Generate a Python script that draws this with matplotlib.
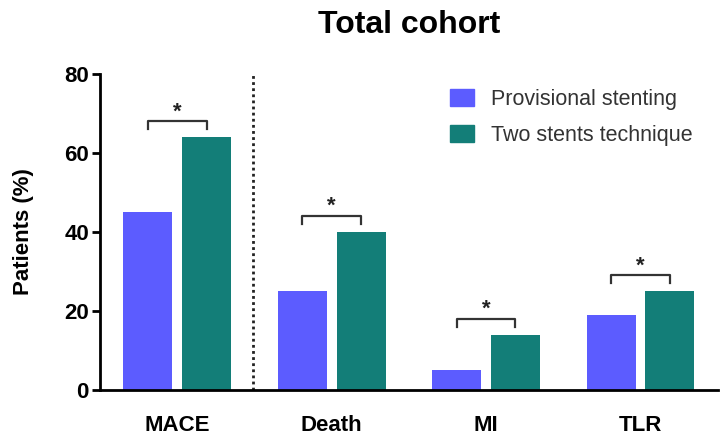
import numpy as np
import matplotlib.pyplot as plt
from matplotlib.patches import Patch

plt.rcParams["font.family"] = ["Liberation Sans", "DejaVu Sans"]

categories = ["MACE", "Death", "MI", "TLR"]
provisional = [45, 25, 5, 19]
two_stents = [64, 40, 14, 25]
yticks = [0, 20, 40, 60, 80]

c_prov = "#5c5cff"
c_two = "#137e78"

fig = plt.figure(figsize=(7.25, 4.48), dpi=100)
ax = fig.add_axes([0.138, 0.1295, 0.852, 0.7055])

x = np.arange(len(categories))
w = 0.317
off = 0.19
ax.bar(x - off, provisional, w, color=c_prov)
ax.bar(x + off, two_stents, w, color=c_two)

# significance brackets
for xi, top in zip(x, two_stents):
    y0 = top + 4
    ax.plot([xi - off, xi - off, xi + off, xi + off],
            [y0 - 2, y0, y0, y0 - 2], color="#333333", lw=1.6)
    ax.text(xi, y0 + 2.4, "*", ha="center", va="center",
            fontsize=16, fontweight="bold", color="#222222")

# dotted divider between MACE and the components
ax.axvline(0.49, color="#222222", lw=2, ls=(0, (1, 1.2)))

ax.set_xlim(-0.5, 3.5)
ax.set_ylim(0, 80)
ax.set_yticks(yticks)
ax.set_yticklabels([str(t) for t in yticks], fontsize=16, fontweight="bold")
ax.set_xticks(x)
ax.set_xticklabels(categories, fontsize=16, fontweight="bold")
ax.tick_params(axis="x", length=0, pad=18)
ax.tick_params(axis="y", length=6, width=2, pad=2)

for s in ["top", "right"]:
    ax.spines[s].set_visible(False)
for s in ["left", "bottom"]:
    ax.spines[s].set_linewidth(2)

ax.set_ylabel("Patients (%)", fontsize=16, fontweight="bold", labelpad=22)
fig.text(0.565, 0.945, "Total cohort", ha="center", va="center",
         fontsize=23, fontweight="bold")

handles = [Patch(color=c_prov), Patch(color=c_two)]
ax.legend(handles, ["Provisional stenting", "Two stents technique"],
          loc="upper left", bbox_to_anchor=(0.535, 1.015), frameon=False,
          fontsize=15.5, handlelength=1.1, handleheight=0.9,
          handletextpad=0.8, labelspacing=0.68, labelcolor="#333333")

fig.savefig("out.png", dpi=100)
